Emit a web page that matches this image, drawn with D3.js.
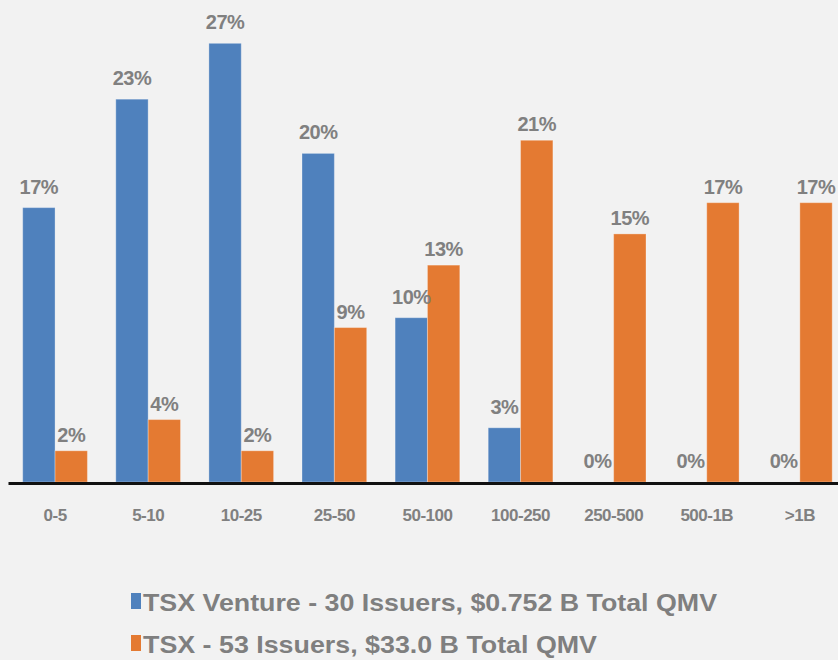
<!DOCTYPE html>
<html>
<head>
<meta charset="utf-8">
<style>
  body { margin: 0; background: #f2f2f2; }
  svg { display: block; }
</style>
</head>
<body>
<div id="chart"></div>
<script src="https://d3js.org/d3.v7.min.js"></script>
<script>
// categories (QMV buckets) and share of issuers per bucket, in %
const categories = ["0-5", "5-10", "10-25", "25-50", "50-100", "100-250", "250-500", "500-1B", ">1B"];
const ventureValues = [16.7, 23.3, 26.7, 20.0, 10.0, 3.3, 0, 0, 0];
const tsxValues = [1.9, 3.8, 1.9, 9.4, 13.2, 20.8, 15.1, 17.0, 17.0];
const seriesNames = ["TSX Venture - 30 Issuers, $0.752 B Total QMV", "TSX - 53 Issuers, $33.0 B Total QMV"];
const seriesColors = ["#4f81bd", "#e47a32"];

const W = 838, H = 660;
const baseY = 482;

const svg = d3.select("#chart").append("svg")
  .attr("width", W)
  .attr("height", H);

svg.append("rect").attr("width", W).attr("height", H).attr("fill", "#f2f2f2");

// scales
const x0 = d3.scaleBand()
  .domain(categories)
  .range([8.5, 846.4])
  .paddingInner(0.305)
  .paddingOuter(0.1525);

const x1 = d3.scaleBand()
  .domain([0, 1])
  .range([0, x0.bandwidth()]);

const y = d3.scaleLinear()
  .domain([0, 29])
  .range([baseY, baseY - 29 * 16.43]);

const rows = categories.map((c, i) => ({ cat: c, values: [ventureValues[i], tsxValues[i]] }));

const groups = svg.selectAll(".grp")
  .data(rows)
  .enter().append("g")
  .attr("class", "grp")
  .attr("transform", d => "translate(" + x0(d.cat) + ",0)");

groups.selectAll("rect")
  .data(d => d.values.map((v, s) => ({ v: v, s: s })))
  .enter().append("rect")
  .attr("x", d => x1(d.s))
  .attr("width", x1.bandwidth())
  .attr("y", d => y(d.v))
  .attr("height", d => baseY - y(d.v))
  .attr("fill", d => seriesColors[d.s])
  .attr("stroke", "rgba(255,255,255,0.3)")
  .attr("stroke-width", 1);

// data labels
const labelGap = [14, 9];
groups.selectAll("text")
  .data(d => d.values.map((v, s) => ({ v: v, s: s })))
  .enter().append("text")
  .attr("x", d => x1(d.s) + x1.bandwidth() / 2)
  .attr("y", d => y(d.v) - labelGap[d.s])
  .attr("text-anchor", "middle")
  .attr("font-family", "Liberation Sans, Arial, sans-serif")
  .attr("font-weight", "bold")
  .attr("font-size", 20)
  .attr("letter-spacing", -0.5)
  .attr("fill", "#808080")
  .text(d => d3.format(".0f")(d.v) + "%");

// x axis
const xAxis = svg.append("g")
  .attr("transform", "translate(0," + baseY + ")")
  .call(d3.axisBottom(x0).tickSize(0).tickPadding(0));
xAxis.select(".domain").remove();
xAxis.append("line")
  .attr("x1", 8.5).attr("x2", 846.4)
  .attr("y1", 1.5).attr("y2", 1.5)
  .attr("stroke", "#111")
  .attr("stroke-width", 3);
xAxis.selectAll(".tick text")
  .attr("dy", 0)
  .attr("y", 39)
  .attr("font-family", "Liberation Sans, Arial, sans-serif")
  .attr("font-weight", "bold")
  .attr("font-size", 17)
  .attr("letter-spacing", -0.5)
  .attr("fill", "#808080");

// legend
const legendWidths = [574, 454];
const legend = svg.selectAll(".legend")
  .data(seriesNames)
  .enter().append("g")
  .attr("class", "legend")
  .attr("transform", (d, i) => "translate(131," + (593 + i * 42) + ")");

legend.append("rect")
  .attr("width", 10)
  .attr("height", 16)
  .attr("fill", (d, i) => seriesColors[i]);

legend.append("text")
  .attr("x", 12)
  .attr("y", 18)
  .attr("font-family", "Liberation Sans, Arial, sans-serif")
  .attr("font-weight", "bold")
  .attr("font-size", 24)
  .attr("fill", "#7f7f7f")
  .attr("textLength", (d, i) => legendWidths[i])
  .attr("lengthAdjust", "spacingAndGlyphs")
  .text(d => d);
</script>
</body>
</html>
